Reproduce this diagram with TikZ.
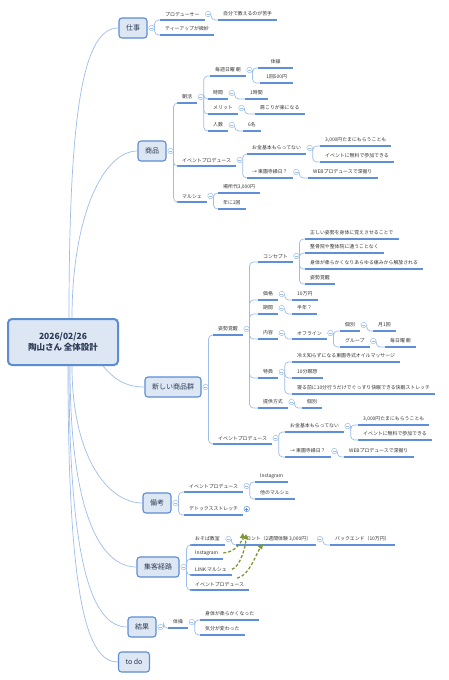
\documentclass[tikz,border=0pt]{standalone}
\usepackage{fontspec}
\setmainfont{Noto Sans CJK JP}
\usetikzlibrary{arrows.meta, positioning, calc}
\definecolor{boxfill}{RGB}{221,230,243}
\definecolor{boxline}{RGB}{92,140,212}
\definecolor{uline}{RGB}{94,143,216}
\definecolor{thinline}{RGB}{158,190,234}
\definecolor{ink}{RGB}{44,58,86}
\definecolor{leaf}{RGB}{51,51,51}
\definecolor{olive}{RGB}{128,150,48}

\begin{document}
\begin{tikzpicture}[
    x=1pt, y=-1pt,
    rootbox/.style={rectangle, rounded corners=4pt, draw=boxline, line width=2pt, fill=boxfill, minimum width=110pt, minimum height=46pt, align=center, font=\fontsize{8.5}{11}\selectfont\bfseries, text=ink},
    mainbox/.style={rectangle, rounded corners=3pt, draw=boxline, line width=1.1pt, fill=boxfill, inner xsep=7pt, minimum height=20pt, font=\fontsize{7}{8}\selectfont, text=ink},
    topic/.style={anchor=south west, inner xsep=5pt, inner ysep=3.5pt, font=\fontsize{4.9}{5.5}\selectfont, text=leaf, append after command={(\tikzlastnode.south west) edge[ul] (\tikzlastnode.south east)}},
    ul/.style={draw=uline, line width=1.5pt},
    mk/.style={circle, draw=thinline, fill=white, line width=0.5pt, inner sep=0pt, minimum size=5.5pt, path picture={\draw[thinline, line width=0.5pt] ([xshift=-1.5pt]path picture bounding box.center) -- ([xshift=1.5pt]path picture bounding box.center);}},
    mkplus/.style={circle, draw=boxline, fill=white, line width=0.5pt, inner sep=0pt, minimum size=5.5pt, path picture={\draw[boxline, line width=0.6pt] ([xshift=-1.5pt]path picture bounding box.center) -- ([xshift=1.5pt]path picture bounding box.center) ([yshift=-1.5pt]path picture bounding box.center) -- ([yshift=1.5pt]path picture bounding box.center);}},
    trunk/.style={draw=thinline, line width=0.7pt},
    br/.style={draw=thinline, line width=0.7pt, rounded corners=4pt},
    flow/.style={-{Triangle[length=5pt, width=5pt]}, draw=olive, line width=1.3pt, dash pattern=on 3pt off 2pt},
]
\useasboundingbox[fill=white] (0,0) rectangle (448,680);

% root and main branches
\node[rootbox] (root) at (63,342) {2026/02/26\\陶山さん 全体設計};

\node[mainbox] (shigoto) at (133,28) {仕事};
\node[mainbox] (shohin) at (152,151) {商品};
\node[mainbox] (shinki) at (173,387) {新しい商品群};
\node[mainbox] (biko) at (157,503) {備考};
\node[mainbox] (shukyaku) at (158,567) {集客経路};
\node[mainbox] (kekka) at (142,627) {結果};
\node[mainbox] (todo) at (134,662) {to do};

\node[mk, right=1pt of shigoto] (shigoto-m) {};
\node[mk, right=1pt of shohin] (shohin-m) {};
\node[mk, right=1pt of shinki] (shinki-m) {};
\node[mk, right=1pt of biko] (biko-m) {};
\node[mk, right=1pt of shukyaku] (shukyaku-m) {};
\node[mk, right=1pt of kekka] (kekka-m) {};

\draw[trunk] ([xshift=6pt]root.north) .. controls +(0,-210) and +(-35,0) .. (shigoto.west);
\draw[trunk] ([xshift=9pt]root.north) .. controls +(0,-100) and +(-35,0) .. (shohin.west);
\draw[trunk] ([xshift=40pt]root.south) .. controls +(10,12) and +(-20,0) .. (shinki.west);
\draw[trunk] ([xshift=9pt]root.south) .. controls +(0,90) and +(-35,0) .. (biko.west);
\draw[trunk] ([xshift=7pt]root.south) .. controls +(0,150) and +(-35,0) .. (shukyaku.west);
\draw[trunk] ([xshift=6pt]root.south) .. controls +(0,200) and +(-35,0) .. (kekka.west);
\draw[trunk] ([xshift=5pt]root.south) .. controls +(0,240) and +(-30,0) .. (todo.west);

% 仕事
\node[topic] (pro) at (160,20) {プロデューサー};
\node[mk, right=0.5pt of pro.south east, yshift=6pt] (pro-m) {};
\node[topic] (pro1) at (218,20) {自分で教えるのが苦手};
\node[topic] (tea) at (160,35) {ティーアップが微妙};

\draw[br] (shigoto-m.east) |- (pro.south west);
\draw[br] (shigoto-m.east) |- (tea.south west);
\draw[br] (pro-m.east) |- (pro1.south west);

% 商品
\node[topic] (asa) at (177,103) {朝活};
\node[mk, right=0.5pt of asa.south east, yshift=6pt] (asa-m) {};
\node[topic] (maishu) at (210,76) {毎週日曜 朝};
\node[mk, right=0.5pt of maishu.south east, yshift=6pt] (maishu-m) {};
\node[topic, minimum width=35pt] (taiso) at (258,68) {体操};
\node[topic, minimum width=33pt] (kai) at (260,83) {1回500円};
\node[topic] (jikan) at (208,99) {時間};
\node[mk, right=0.5pt of jikan.south east, yshift=6pt] (jikan-m) {};
\node[topic] (jikan1) at (245,99) {1時間};
\node[topic] (merit) at (208,114) {メリット};
\node[mk, right=0.5pt of merit.south east, yshift=6pt] (merit-m) {};
\node[topic] (merit1) at (255,114) {肩こりが楽になる};
\node[topic] (ninzu) at (208,131) {人数};
\node[mk, right=0.5pt of ninzu.south east, yshift=6pt] (ninzu-m) {};
\node[topic] (ninzu1) at (243,131) {6名};

\node[topic] (ev) at (177,166) {イベントプロデュース};
\node[mk, right=0.5pt of ev.south east, yshift=6pt] (ev-m) {};
\node[topic] (okane) at (247,154) {お金基本もらってない};
\node[mk, right=0.5pt of okane.south east, yshift=6pt] (okane-m) {};
\node[topic] (okane1) at (320,146) {3,000円たまにもらうことも};
\node[topic] (okane2) at (320,162) {イベントに無料で参加できる};
\node[topic] (toen) at (247,178) {→ 東園寺縁日？};
\node[mk, right=0.5pt of toen.south east, yshift=6pt] (toen-m) {};
\node[topic] (toen1) at (308,178) {WEBプロデュースで深掘り};

\node[topic] (marche) at (177,202) {マルシェ};
\node[mk, right=0.5pt of marche.south east, yshift=6pt] (marche-m) {};
\node[topic] (marche1) at (218,193) {場所代3,000円};
\node[topic] (marche2) at (218,209) {年に2回};

\draw[br] (shohin-m.east) |- (asa.south west);
\draw[br] (shohin-m.east) |- (ev.south west);
\draw[br] (shohin-m.east) |- (marche.south west);
\draw[br] (asa-m.east) |- (maishu.south west);
\draw[br] (asa-m.east) |- (jikan.south west);
\draw[br] (asa-m.east) |- (merit.south west);
\draw[br] (asa-m.east) |- (ninzu.south west);
\draw[br] (maishu-m.east) |- (taiso.south west);
\draw[br] (maishu-m.east) |- (kai.south west);
\draw[br] (jikan-m.east) |- (jikan1.south west);
\draw[br] (merit-m.east) |- (merit1.south west);
\draw[br] (ninzu-m.east) |- (ninzu1.south west);
\draw[br] (ev-m.east) |- (okane.south west);
\draw[br] (ev-m.east) |- (toen.south west);
\draw[br] (okane-m.east) |- (okane1.south west);
\draw[br] (okane-m.east) |- (okane2.south west);
\draw[br] (toen-m.east) |- (toen1.south west);
\draw[br] (marche-m.east) |- (marche1.south west);
\draw[br] (marche-m.east) |- (marche2.south west);

% 新しい商品群
\node[topic] (shisei) at (213,335) {姿勢覚醒};
\node[mk, right=0.5pt of shisei.south east, yshift=6pt] (shisei-m) {};
\node[topic] (concept) at (258,262) {コンセプト};
\node[mk, right=0.5pt of concept.south east, yshift=6pt] (concept-m) {};
\node[topic] (c1) at (305,239) {正しい姿勢を身体に覚えさせることで};
\node[topic] (c2) at (305,253) {整骨院や整体院に通うことなく};
\node[topic] (c3) at (305,269) {身体が柔らかくなりあらゆる痛みから解放される};
\node[topic] (c4) at (305,284) {姿勢覚醒};
\node[topic] (kakaku) at (258,300) {価格};
\node[mk, right=0.5pt of kakaku.south east, yshift=6pt] (kakaku-m) {};
\node[topic] (kakaku1) at (292,300) {10万円};
\node[topic] (kikan) at (258,314) {期間};
\node[mk, right=0.5pt of kikan.south east, yshift=6pt] (kikan-m) {};
\node[topic] (kikan1) at (292,314) {半年？};
\node[topic] (naiyo) at (258,339) {内容};
\node[mk, right=0.5pt of naiyo.south east, yshift=6pt] (naiyo-m) {};
\node[topic] (offline) at (292,339) {オフライン};
\node[mk, right=0.5pt of offline.south east, yshift=6pt] (offline-m) {};
\node[topic] (kobetsu) at (340,331) {個別};
\node[mk, right=0.5pt of kobetsu.south east, yshift=6pt] (kobetsu-m) {};
\node[topic] (kobetsu1) at (373,331) {月1回};
\node[topic] (group) at (340,347) {グループ};
\node[mk, right=0.5pt of group.south east, yshift=6pt] (group-m) {};
\node[topic] (group1) at (385,347) {毎日曜 朝};
\node[topic] (tokuten) at (258,378) {特典};
\node[mk, right=0.5pt of tokuten.south east, yshift=6pt] (tokuten-m) {};
\node[topic] (t1) at (292,362) {冷え知らずになる東園寺式オイルマッサージ};
\node[topic] (t2) at (292,378) {10分瞑想};
\node[topic] (t3) at (292,394) {寝る前に10分行うだけでぐっすり快眠できる快眠ストレッチ};
\node[topic] (teikyo) at (258,408) {提供方式};
\node[mk, right=0.5pt of teikyo.south east, yshift=6pt] (teikyo-m) {};
\node[topic] (teikyo1) at (302,408) {個別};

\node[topic] (ev2) at (213,444) {イベントプロデュース};
\node[mk, right=0.5pt of ev2.south east, yshift=6pt] (ev2-m) {};
\node[topic] (okaneb) at (285,432) {お金基本もらってない};
\node[mk, right=0.5pt of okaneb.south east, yshift=6pt] (okaneb-m) {};
\node[topic] (okaneb1) at (358,425) {3,000円たまにもらうことも};
\node[topic] (okaneb2) at (358,440) {イベントに無料で参加できる};
\node[topic] (toenb) at (285,457) {→ 東園寺縁日？};
\node[mk, right=0.5pt of toenb.south east, yshift=6pt] (toenb-m) {};
\node[topic] (toenb1) at (344,457) {WEBプロデュースで深掘り};

\draw[br] (shinki-m.east) |- (shisei.south west);
\draw[br] (shinki-m.east) |- (ev2.south west);
\draw[br] (shisei-m.east) |- (concept.south west);
\draw[br] (shisei-m.east) |- (kakaku.south west);
\draw[br] (shisei-m.east) |- (kikan.south west);
\draw[br] (shisei-m.east) |- (naiyo.south west);
\draw[br] (shisei-m.east) |- (tokuten.south west);
\draw[br] (shisei-m.east) |- (teikyo.south west);
\draw[br] (concept-m.east) |- (c1.south west);
\draw[br] (concept-m.east) |- (c2.south west);
\draw[br] (concept-m.east) |- (c3.south west);
\draw[br] (concept-m.east) |- (c4.south west);
\draw[br] (kakaku-m.east) |- (kakaku1.south west);
\draw[br] (kikan-m.east) |- (kikan1.south west);
\draw[br] (naiyo-m.east) |- (offline.south west);
\draw[br] (offline-m.east) |- (kobetsu.south west);
\draw[br] (offline-m.east) |- (group.south west);
\draw[br] (kobetsu-m.east) |- (kobetsu1.south west);
\draw[br] (group-m.east) |- (group1.south west);
\draw[br] (tokuten-m.east) |- (t1.south west);
\draw[br] (tokuten-m.east) |- (t2.south west);
\draw[br] (tokuten-m.east) |- (t3.south west);
\draw[br] (teikyo-m.east) |- (teikyo1.south west);
\draw[br] (ev2-m.east) |- (okaneb.south west);
\draw[br] (ev2-m.east) |- (toenb.south west);
\draw[br] (okaneb-m.east) |- (okaneb1.south west);
\draw[br] (okaneb-m.east) |- (okaneb2.south west);
\draw[br] (toenb-m.east) |- (toenb1.south west);

% 備考
\node[topic] (ev3) at (184,492) {イベントプロデュース};
\node[mk, right=0.5pt of ev3.south east, yshift=6pt] (ev3-m) {};
\node[topic] (insta) at (255,482) {Instagram};
\node[topic] (hoka) at (255,499) {他のマルシェ};
\node[topic] (detox) at (184,515) {デトックスストレッチ};
\node[mkplus, right=0.5pt of detox.south east, yshift=6pt] (detox-m) {};

\draw[br] (biko-m.east) |- (ev3.south west);
\draw[br] (biko-m.east) |- (detox.south west);
\draw[br] (ev3-m.east) |- (insta.south west);
\draw[br] (ev3-m.east) |- (hoka.south west);

% 集客経路
\node[topic] (soba) at (190,545) {おそば教室};
\node[mk, right=0.5pt of soba.south east, yshift=6pt] (soba-m) {};
\node[topic] (front) at (236,545) {フロント（2週間体験 3,000円）};
\node[mk, right=0.5pt of front.south east, yshift=6pt] (front-m) {};
\node[topic] (back) at (330,545) {バックエンド（10万円）};
\node[topic] (insta2) at (190,559) {Instagram};
\node[topic] (link) at (190,575) {LINK マルシェ};
\node[topic] (ev4) at (190,590) {イベントプロデュース};

\draw[br] (shukyaku-m.east) |- (soba.south west);
\draw[br] (shukyaku-m.east) |- (insta2.south west);
\draw[br] (shukyaku-m.east) |- (link.south west);
\draw[br] (shukyaku-m.east) |- (ev4.south west);
\draw[br] (soba-m.east) |- (front.south west);
\draw[br] (front-m.east) |- (back.south west);

\draw[flow] (insta2.east) .. controls +(10,0) and +(-1,10) .. ($(front.south west)+(7,-12)$);
\draw[flow] (link.east) .. controls +(8,-2) and +(0,12) .. ($(front.south west)+(10,-11)$);
\draw[flow] ($(ev4.north east)+(-12,0)$) .. controls +(12,-2) and +(-6,8) .. ($(front.south west)+(27,-1)$);

% 結果
\node[topic] (taiso2) at (168,628) {体操};
\node[mk, right=0.5pt of taiso2.south east, yshift=6pt] (taiso2-m) {};
\node[topic] (kekka1) at (200,620) {身体が柔らかくなった};
\node[topic] (kekka2) at (200,635) {気分が変わった};

\draw[br] (kekka-m.east) |- (taiso2.south west);
\draw[br] (taiso2-m.east) |- (kekka1.south west);
\draw[br] (taiso2-m.east) |- (kekka2.south west);

\end{tikzpicture}
\end{document}
